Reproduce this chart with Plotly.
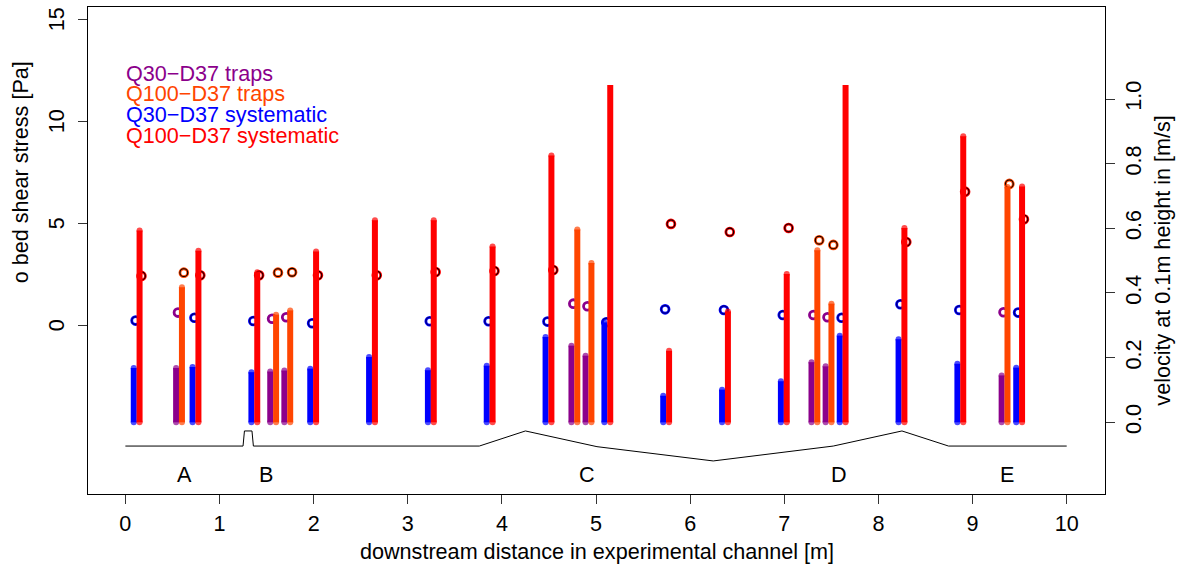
import plotly.graph_objects as go

# ---- measurement stations along the channel [m] ----
sys_station = [0.12, 0.745, 1.37, 1.995, 2.62, 3.245, 3.87, 4.495,
               5.12, 5.745, 6.37, 6.995, 7.62, 8.245, 8.87, 9.495]
trap_station = [0.57, 1.57, 1.72, 4.77, 4.92, 7.32, 7.47, 9.34]

# ---- velocity at 0.1 m height [m/s] ----
q30_sys_vel = [0.168, 0.171, 0.155, 0.166, 0.202, 0.161, 0.175, 0.264,
               0.309, 0.082, 0.101, 0.127, 0.268, 0.257, 0.181, 0.169]
q100_sys_vel = [0.593, 0.531, 0.464, 0.528, 0.625, 0.625, 0.544, 0.825,
                1.043, 0.221, 0.343, 0.459, 1.043, 0.601, 0.885, 0.729]
q30_trap_vel = [0.168, 0.157, 0.160, 0.237, 0.206, 0.186, 0.173, 0.145]
q100_trap_vel = [0.418, 0.333, 0.346, 0.596, 0.493, 0.532, 0.367, 0.728]

# ---- bed shear stress [Pa] ----
q30_sys_tau = [0.23, 0.37, 0.21, 0.10, None, 0.20, 0.20, 0.18,
               0.15, 0.78, 0.75, 0.50, 0.37, 1.03, 0.75, 0.62]
q100_sys_tau = [2.42, 2.45, 2.45, 2.45, 2.45, 2.61, 2.66, 2.71,
                None, 4.97, 4.57, 4.77, None, 4.08, 6.55, 5.20]
q30_trap_tau = [0.62, 0.32, 0.39, 1.06, 0.93, 0.50, 0.39, 0.64]
q100_trap_tau = [2.58, 2.58, 2.60, None, None, 4.17, 3.94, 6.93]

# ---- channel bed profile (drawn in shear-stress units below the data) ----
profile_x = [0, 1.25, 1.265, 1.345, 1.36, 3.76, 4.25, 5.01, 6.245,
             7.52, 8.25, 8.745, 10]
profile_y = [-5.92, -5.92, -5.18, -5.18, -5.92, -5.92, -5.18, -5.95, -6.65,
             -5.92, -5.18, -5.92, -5.92]
section_names = ["A", "B", "C", "D", "E"]
section_x = [0.633, 1.493, 4.908, 7.583, 9.362]
section_y = -7.29

legend_labels = ["Q30\u2212D37 traps", "Q100\u2212D37 traps",
                 "Q30\u2212D37 systematic", "Q100\u2212D37 systematic"]
legend_y = [12.32, 11.34, 10.32, 9.32]

tau_ticks = [0, 5, 10, 15]
vel_ticks = [0, 0.2, 0.4, 0.6, 0.8, 1.0]
vel_tick_text = ["0.0", "0.2", "0.4", "0.6", "0.8", "1.0"]

PURPLE = "#8B008B"
ORANGE = "#FF4500"
BLUE = "#0000FF"
RED = "#FF0000"

FONT = "Liberation Sans, Arial, Helvetica, sans-serif"
FS = 21.6

VEL_CEILING = 1.043   # stems reaching this level are cut flat
BAR_SHIFT = 0.031     # Q30 left of station, Q100 right of station
RING_SHIFT = 0.02

fig = go.Figure()


def stems(xs, vals, shift, color):
    px, py, sizes = [], [], []
    for x, v in zip(xs, vals):
        px += [x + shift, x + shift, None]
        py += [0, v, None]
        sizes += [6, 6 if v < VEL_CEILING else 0, 0]
    return go.Scatter(x=px, y=py, yaxis="y2", mode="lines+markers",
                      line=dict(color=color, width=6),
                      marker=dict(size=sizes, color=color, line=dict(width=0)),
                      hoverinfo="skip", showlegend=False)


def rings(xs, taus, shift, color, edge):
    px = [x + shift + RING_SHIFT for x in xs]
    out = [go.Scatter(x=px, y=taus, mode="markers",
                      marker=dict(symbol="circle-open", size=7.8, color=color,
                                  line=dict(width=2.8)),
                      hoverinfo="skip", showlegend=False)]
    if edge:
        out.append(go.Scatter(x=px, y=taus, mode="markers",
                              marker=dict(symbol="circle-open", size=7.8,
                                          color=edge, line=dict(width=1.1)),
                              hoverinfo="skip", showlegend=False))
    return out


# bed profile
fig.add_trace(go.Scatter(x=profile_x, y=profile_y, mode="lines",
                         line=dict(color="black", width=1),
                         hoverinfo="skip", showlegend=False))

# velocity stems
fig.add_trace(stems(sys_station, q30_sys_vel, -BAR_SHIFT, BLUE))
fig.add_trace(stems(sys_station, q100_sys_vel, BAR_SHIFT, RED))
fig.add_trace(stems(trap_station, q30_trap_vel, -BAR_SHIFT, PURPLE))
fig.add_trace(stems(trap_station, q100_trap_vel, BAR_SHIFT, ORANGE))

# shear stress rings
for tr in rings(sys_station, q30_sys_tau, -BAR_SHIFT, BLUE, "#00006A"):
    fig.add_trace(tr)
for tr in rings(sys_station, q100_sys_tau, BAR_SHIFT, RED, "black"):
    fig.add_trace(tr)
for tr in rings(trap_station, q30_trap_tau, -BAR_SHIFT, PURPLE, None):
    fig.add_trace(tr)
for tr in rings(trap_station, q100_trap_tau, BAR_SHIFT, ORANGE, "black"):
    fig.add_trace(tr)

annotations = []
for name, sx in zip(section_names, section_x):
    annotations.append(dict(x=sx, y=section_y, xref="x", yref="y", text=name,
                            showarrow=False, font=dict(size=FS, color="black")))
for lab, ly, col in zip(legend_labels, legend_y, [PURPLE, ORANGE, BLUE, RED]):
    annotations.append(dict(x=0, y=ly, xref="x", yref="y", text=lab,
                            xanchor="left", yanchor="middle", showarrow=False,
                            borderpad=0, font=dict(size=FS, color=col)))

# left tick labels, rotated and set further out from the axis
for t in tau_ticks:
    annotations.append(dict(x=0, y=t, xref="paper", yref="y", text=str(t),
                            textangle=-90, showarrow=False, xanchor="center",
                            yanchor="middle", xshift=-32,
                            font=dict(size=FS, color="black")))

# axis titles
annotations.append(dict(x=0.5, y=0, xref="paper", yref="paper",
                        text="downstream distance in experimental channel [m]",
                        showarrow=False, yanchor="middle", yshift=-57,
                        font=dict(size=FS, color="black")))
annotations.append(dict(x=0, y=7.5, xref="paper", yref="y",
                        text="o bed shear stress [Pa]", textangle=-90,
                        showarrow=False, xanchor="center", xshift=-68,
                        font=dict(size=FS, color="black")))
annotations.append(dict(x=1, y=0.5, xref="paper", yref="y2",
                        text="velocity at 0.1m height in [m/s]", textangle=-90,
                        showarrow=False, xanchor="center", xshift=58,
                        font=dict(size=FS, color="black")))

axis_common = dict(showgrid=False, zeroline=False, showline=True,
                   linecolor="black", linewidth=1, ticks="outside",
                   ticklen=9, tickwidth=1, tickcolor="#333333",
                   tickfont=dict(size=FS, color="black", family=FONT))

fig.update_layout(
    width=1178, height=565,
    margin=dict(l=88, r=73, t=7, b=71),
    plot_bgcolor="white", paper_bgcolor="white",
    font=dict(family=FONT, size=FS, color="black"),
    showlegend=False,
    xaxis=dict(range=[-0.397, 10.407], tickvals=list(range(11)),
               mirror=True, ticklabelstandoff=1, **axis_common),
    yaxis=dict(range=[-8.27, 15.60], tickvals=tau_ticks,
               showticklabels=False, mirror=True, **axis_common),
    yaxis2=dict(range=[-0.2218, 1.2846], overlaying="y", side="right",
                tickvals=vel_ticks, ticktext=vel_tick_text,
                tickangle=-90, ticklabelstandoff=0, **axis_common),
    annotations=annotations,
)

fig.write_html("out.html")
